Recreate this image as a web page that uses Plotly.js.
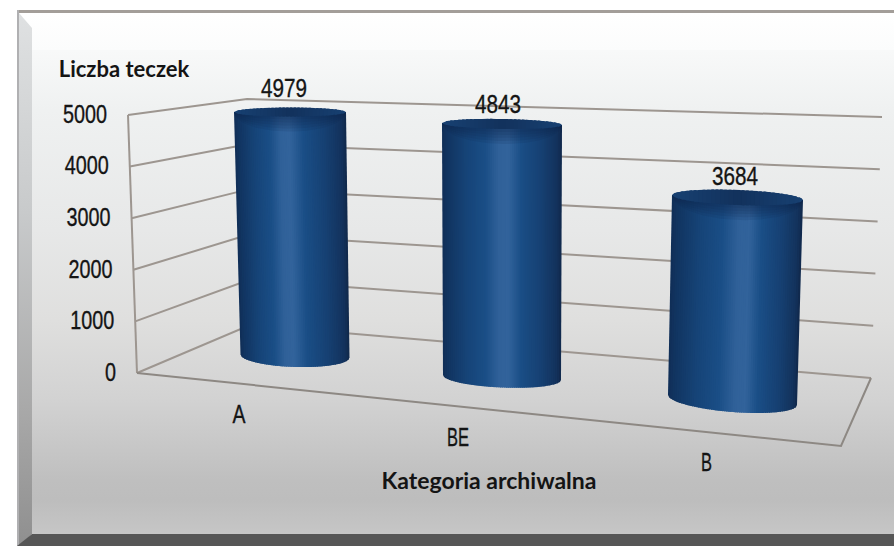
<!DOCTYPE html>
<html><head><meta charset="utf-8">
<script src="https://cdn.plot.ly/plotly-3.0.1.min.js"></script>
<style>
html,body{margin:0;padding:0;background:#fff;width:894px;height:546px;overflow:hidden}
.f{position:absolute}
#chart{position:absolute;left:0;top:0;width:894px;height:546px}
</style></head><body>
<div class="f" style="left:17px;top:10px;width:877px;height:3px;background:#a39e99"></div>
<div class="f" style="left:17px;top:10px;width:2px;height:536px;background:#b0b0b2"></div>
<div class="f" style="left:19px;top:13px;width:875px;height:37px;background:linear-gradient(#fff,#fbfcfc)"></div>
<div class="f" style="left:32px;top:50px;width:862px;height:484px;background:linear-gradient(#f8f9f9 0,#eff1f1 60px,#e7e8e8 180px,#dfdfde 270px,#d2d2d2 350px,#bfbfbf 430px,#bdbdbd 450px,#c6c6c6 484px)"></div>
<div class="f" style="left:19px;top:13px;width:13px;height:533px;clip-path:polygon(0 0,100% 15px,100% 521px,0 100%);background:linear-gradient(#dfe1e2,#c8cacb 200px,#a8a8a8 400px,#8f8f8f)"></div>
<div class="f" style="left:17px;top:534px;width:877px;height:12px;clip-path:polygon(15px 0,100% 0,100% 100%,0 100%);background:#565656"></div>
<div id="chart"></div>
<script>
// ---- data ----
const categories = ["A", "BE", "B"];
const values = [4979, 4843, 3684];
const tickValues = [0, 1000, 2000, 3000, 4000, 5000];
const yTitle = "Liczba teczek";
const xTitle = "Kategoria archiwalna";

// ---- 3D-look projection (value -> picture plane) ----
const wallLeft  = {x0:137, y0:373, x1:128, y1:115};
const wallBack  = {x0:250, y0:325, x1:247, y1:99};
const wallRight = {x0:871, y0:378, x1:882, y1:117};
const floorFront = [841, 446];
const maxV = 5000;
const onWall = (w, v) => [w.x0 + (w.x1 - w.x0) * v / maxV, w.y0 + (w.y1 - w.y0) * v / maxV];

// cylinder geometry per category
const cyl = [
  {cx:295,   cy:356,   rx:54.5, ry:11, s:0.030, k:0.04900, cxT:290,   rxT:56,   ryT:4.5, sT:0.000, hl:-0.10, lab:[-6,-22],   cat:[239,417]},
  {cx:502,   cy:377.5, rx:59,   ry:10, s:0.042, k:0.05235, cxT:502,   rxT:60,   ryT:5,   sT:0.017, hl:0.03,  lab:[-4,-17.5], cat:[458,440]},
  {cx:732.5, cy:400,   rx:64.5, ry:12, s:0.078, k:0.05497, cxT:737.5, rxT:65.5, ryT:7.5, sT:0.038, hl:0.12,  lab:[-2.5,-18.5], cat:[706.5,465]}
];

const traces = [];
const gridColor = "#9d9690";
function line(pts, color, w) {
  traces.push({type:"scatter", mode:"lines", x:pts.map(p=>p[0]), y:pts.map(p=>p[1]),
    line:{color:color, width:w, simplify:false}, hoverinfo:"skip", showlegend:false});
}
tickValues.forEach(v => line([onWall(wallLeft,v), onWall(wallBack,v), onWall(wallRight,v)], gridColor, 2));
line([onWall(wallLeft,0), onWall(wallLeft,maxV)], gridColor, 2);
line([onWall(wallLeft,0), floorFront, onWall(wallRight,0)], "#8d8883", 2);

// shading
const stops = [[-1,[16,46,86]],[-0.92,[17,52,96]],[-0.6,[22,68,120]],[-0.3,[26,78,134]],[-0.08,[48,97,153]],[0.08,[50,99,155]],[0.3,[26,78,134]],[0.65,[22,64,114]],[0.92,[19,50,92]],[1,[16,40,74]]];
function shade(u, hl) {
  let t = u <= hl ? (u - hl) / (1 + hl) : (u - hl) / (1 - hl);
  let a = stops[0], b = stops[stops.length-1];
  for (let i = 0; i < stops.length-1; i++) if (t >= stops[i][0] && t <= stops[i+1][0]) { a = stops[i]; b = stops[i+1]; break; }
  const m = (t - a[0]) / ((b[0] - a[0]) || 1);
  const c = a[1].map((q, j) => Math.round(q + (b[1][j] - q) * m));
  return `rgb(${c[0]},${c[1]},${c[2]})`;
}
function capShade(u) {
  const m = Math.abs(u);
  return `rgb(${Math.round(18+5*m)},${Math.round(50+14*m)},${Math.round(92+22*m)})`;
}
function fillPoly(xs, ys, color) {
  traces.push({type:"scatter", mode:"lines", x:xs, y:ys, fill:"toself", fillcolor:color,
    line:{width:0, color:color}, hoverinfo:"skip", showlegend:false});
}
values.forEach((v, i) => {
  const c = cyl[i];
  const yT = c.cy - v * c.k;
  const bot = u => [c.cx + c.rx*u, c.cy + c.s*c.rx*u + c.ry*Math.sqrt(Math.max(0,1-u*u))];
  const topF = u => [c.cxT + c.rxT*u, yT + c.sT*c.rxT*u + c.ryT*Math.sqrt(Math.max(0,1-u*u))];
  const topB = u => [c.cxT + c.rxT*u, yT + c.sT*c.rxT*u - c.ryT*Math.sqrt(Math.max(0,1-u*u))];
  const mid  = u => [c.cxT + c.rxT*u, yT + c.sT*c.rxT*u];
  const n = 60;
  for (let j = 0; j < n; j++) {
    const u0 = -1 + 2*j/n, u1 = Math.min(1, -1 + 2*(j+1.6)/n), um = -1 + 2*(j+0.5)/n;
    const us = []; for (let q = 0; q <= 3; q++) us.push(u0 + (u1-u0)*q/3);
    const pts = us.map(mid).concat(us.slice().reverse().map(bot));
    fillPoly(pts.map(p=>p[0]), pts.map(p=>p[1]), shade(um, c.hl));
  }
  // soft shadow under the lid
  const arc = []; for (let q = 0; q <= 40; q++) arc.push(-1 + 2*q/40);
  [3, 6, 9, 12, 15].forEach(d => {
    const pts = arc.map(mid).concat(arc.slice().reverse().map(u => { const p = topF(u); return [p[0], p[1] + d * Math.sqrt(Math.max(0,1-u*u))]; }));
    fillPoly(pts.map(p=>p[0]), pts.map(p=>p[1]), "rgba(12,38,76,0.13)");
  });
  const nc = 30;
  for (let j = 0; j < nc; j++) {
    const u0 = -1 + 2*j/nc, u1 = Math.min(1, -1 + 2*(j+1.6)/nc), um = -1 + 2*(j+0.5)/nc;
    const us = []; for (let q = 0; q <= 3; q++) us.push(u0 + (u1-u0)*q/3);
    const pts = us.map(topB).concat(us.slice().reverse().map(topF));
    fillPoly(pts.map(p=>p[0]), pts.map(p=>p[1]), capShade(um));
  }
});

// text
const narrow = "'Liberation Sans',sans-serif";
function text(x, y, str, size, family, pos, weight) {
  traces.push({type:"scatter", mode:"text", x:[x], y:[y], text:[str], textposition:pos||"middle center",
    textfont:{size:size, family:family, color:"#141414", weight:weight||400}, hoverinfo:"skip", showlegend:false, cliponaxis:false});
}
tickValues.forEach(v => {
  const p = onWall(wallLeft, v);
  text(p[0]-21, p[1]+1.5, String(v), 25, narrow, "middle left");
});
values.forEach((v,i) => {
  const c = cyl[i];
  text(c.cxT + c.lab[0], c.cy - v*c.k + c.lab[1], String(v), 26, narrow);
  text(c.cat[0], c.cat[1], categories[i], 25, narrow);
});
text(124, 71, yTitle, 22, "Lato,sans-serif", "middle center", 700);
text(489, 483, xTitle, 23, "Lato,sans-serif", "middle center", 700);

const layout = {
  width:894, height:546, margin:{l:0,r:0,t:0,b:0},
  paper_bgcolor:"rgba(0,0,0,0)", plot_bgcolor:"rgba(0,0,0,0)",
  xaxis:{range:[0,894], visible:false, fixedrange:true},
  yaxis:{range:[546,0], visible:false, fixedrange:true},
  showlegend:false, hovermode:false
};
Plotly.newPlot("chart", traces, layout, {displayModeBar:false, staticPlot:true}).then(gd => {
  // condensed look: no condensed face is installed, so squeeze the numerals and letters
  const squeeze = {A:13, BE:22, B:11};
  tickValues.forEach(v => squeeze[String(v)] = String(v).length * 11);
  values.forEach(v => squeeze[String(v)] = 46);
  gd.querySelectorAll(".textpoint text").forEach(t => {
    const w = squeeze[t.textContent];
    if (w) {
      t.setAttribute("textLength", w);
      t.setAttribute("lengthAdjust", "spacingAndGlyphs");
      t.style.stroke = "#141414";
      t.style.strokeWidth = "0.35px";
    }
  });
});
</script>
</body></html>
